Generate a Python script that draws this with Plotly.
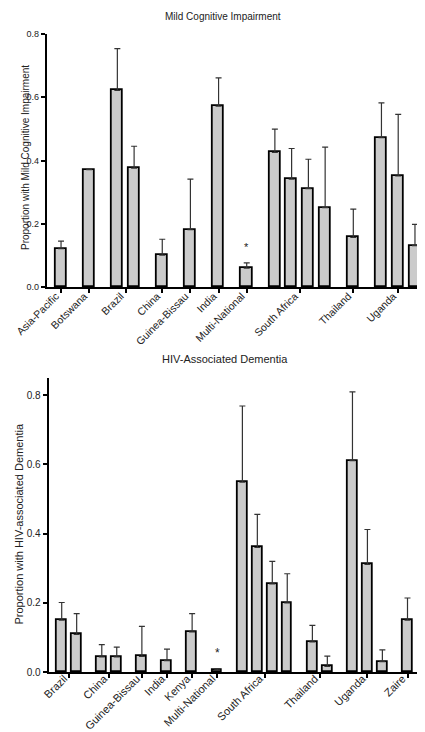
import plotly.graph_objects as go

# ---------------- data ----------------
mci_groups = ["Asia-Pacific", "Botswana", "Brazil", "China", "Guinea-Bissau", "India",
              "Multi-National", "South Africa", "Thailand", "Uganda"]
mci_counts = [1, 1, 2, 1, 1, 1, 1, 4, 1, 3]
mci_values = [0.121, 0.371, 0.622, 0.376, 0.101, 0.181, 0.572, 0.060,
              0.426, 0.341, 0.311, 0.251, 0.157, 0.472, 0.351, 0.131]
mci_upper = [0.145, None, 0.754, 0.445, 0.151, 0.341, 0.661, 0.076,
             0.499, 0.438, 0.404, 0.442, 0.246, 0.582, 0.546, 0.198]

had_groups = ["Brazil", "China", "Guinea-Bissau", "India", "Kenya", "Multi-National",
              "South Africa", "Thailand", "Uganda", "Zaire"]
had_counts = [2, 2, 1, 1, 1, 1, 4, 2, 3, 1]
had_values = [0.150, 0.109, 0.044, 0.044, 0.045, 0.033, 0.116, 0.005,
              0.549, 0.360, 0.255, 0.200, 0.087, 0.016, 0.611, 0.311, 0.030, 0.150]
had_upper = [0.201, 0.169, 0.079, 0.072, 0.132, 0.066, 0.169, 0.009,
             0.769, 0.456, 0.320, 0.284, 0.135, 0.046, 0.810, 0.412, 0.064, 0.214]

GAP = 1.68  # spacing between groups relative to within-group spacing


def positions(counts):
    xs, centers = [], []
    pos = 0.0
    for gi, c in enumerate(counts):
        if gi > 0:
            pos += GAP - 1
        start = pos
        for k in range(c):
            xs.append(pos)
            pos += 1
        centers.append((start + pos - 1) / 2)
    return xs, centers


W, H = 425, 732
fig = go.Figure()

FILL = "#cbcbcb"
FONT = "Liberation Sans, Arial, sans-serif"
TXT = "#222222"


def add_panel(values, upper, counts, xa, ya, star_idx, star_y, star_size):
    xs, centers = positions(counts)
    plus = [(u - v) if u is not None else None for u, v in zip(upper, values)]
    fig.add_trace(go.Bar(
        x=xs, y=values, width=0.66, xaxis=xa, yaxis=ya,
        marker=dict(color=FILL, line=dict(color="black", width=1.8)),
        error_y=dict(type="data", array=plus, arrayminus=[0] * len(values),
                     symmetric=False, color="#333333", thickness=1.2, width=3),
        showlegend=False, hoverinfo="skip"))
    fig.add_annotation(x=xs[star_idx], y=star_y, xref=xa, yref=ya, text="*",
                       showarrow=False, xanchor="center", yanchor="middle",
                       font=dict(size=star_size, color=TXT, family=FONT))
    return xs, centers


xs1, c1 = add_panel(mci_values, mci_upper, mci_counts, "x", "y", 7, 0.125, 11)
xs2, c2 = add_panel(had_values, had_upper, had_counts, "x2", "y2", 7, 0.055, 12)

axis_common = dict(showline=True, linecolor="black", linewidth=2, showgrid=False,
                   zeroline=False, ticks="outside", ticklen=4, tickwidth=1.5,
                   tickcolor="black", automargin=False)

fig.update_layout(
    width=W, height=H, margin=dict(l=0, r=0, t=0, b=0),
    paper_bgcolor="white", plot_bgcolor="white", bargap=0,
    xaxis=dict(domain=[38.7 / W, 413 / W], anchor="y",
               range=[-0.856, xs1[-1] + 0.36],
               tickvals=c1, ticktext=mci_groups, tickangle=-45,
               ticklabelstandoff=-7, ticklabelshift=-5,
               tickfont=dict(size=10.5, color=TXT, family=FONT), **axis_common),
    yaxis=dict(domain=[(H - 279) / H, (H - 26) / H], anchor="x",
               range=[0, 0.8], tickvals=[0, 0.2, 0.4, 0.6, 0.8], tickformat=".1f",
               tickfont=dict(size=9, color=TXT, family=FONT), **axis_common),
    xaxis2=dict(domain=[40.7 / W, 412.3 / W], anchor="y2",
                range=[-0.87, xs2[-1] + 0.856],
                tickvals=c2, ticktext=had_groups, tickangle=-45,
                ticklabelstandoff=-10, ticklabelshift=-5,
                tickfont=dict(size=11, color=TXT, family=FONT), **axis_common),
    yaxis2=dict(domain=[(H - 664) / H, (H - 370) / H], anchor="x2",
                range=[0, 0.85], tickvals=[0, 0.2, 0.4, 0.6, 0.8], tickformat=".1f",
                tickfont=dict(size=10, color=TXT, family=FONT), **axis_common),
)

fig.add_annotation(x=215 / W, y=(H - 8) / H, xref="paper", yref="paper",
                   text="Mild Cognitive Impairment", showarrow=False,
                   xanchor="center", yanchor="middle",
                   font=dict(size=10, color=TXT, family=FONT))
fig.add_annotation(x=217 / W, y=(H - 351) / H, xref="paper", yref="paper",
                   text="HIV-Associated Dementia", showarrow=False,
                   xanchor="center", yanchor="middle",
                   font=dict(size=11, color=TXT, family=FONT))
fig.add_annotation(x=17 / W, y=(H - 150) / H, xref="paper", yref="paper",
                   text="Proportion with Mild Cognitive Impairment", textangle=-90,
                   showarrow=False, xanchor="center", yanchor="middle",
                   font=dict(size=10, color=TXT, family=FONT))
fig.add_annotation(x=10.5 / W, y=(H - 516) / H, xref="paper", yref="paper",
                   text="Proportion with HIV-associated Dementia", textangle=-90,
                   showarrow=False, xanchor="center", yanchor="middle",
                   font=dict(size=11, color=TXT, family=FONT))

fig.write_html("out.html")
